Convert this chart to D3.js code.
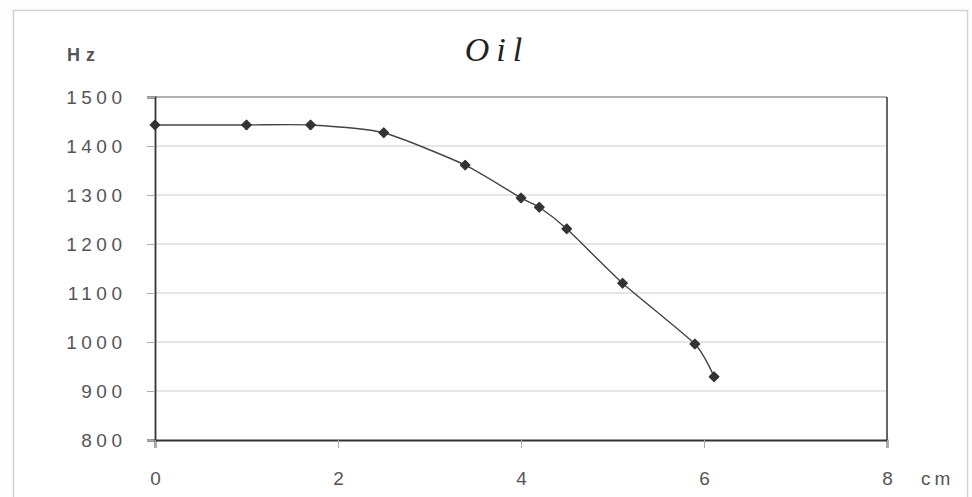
<!DOCTYPE html>
<html><head><meta charset="utf-8">
<script src="https://cdn.jsdelivr.net/npm/d3@7"></script>
<style>
html,body{margin:0;padding:0;background:#fff;}
svg text{font-family:"Liberation Sans",Arial,sans-serif;}
</style></head>
<body>
<svg id="c" width="972" height="497"></svg>
<script>
const title = "Oil";
const yUnit = "Hz";
const xUnit = "cm";
const distance = [0, 1.0, 1.7, 2.5, 3.39, 4.0, 4.2, 4.5, 5.11, 5.9, 6.11];
const frequency = [1443, 1443, 1443, 1427, 1361, 1294, 1275, 1231, 1120, 996, 929];
const xTicks = [0, 2, 4, 6, 8];
const yTicks = [800, 900, 1000, 1100, 1200, 1300, 1400, 1500];

const svg = d3.select("#c");
const m = {left:155, right:887, top:97, bottom:440};
const x = d3.scaleLinear().domain([0,8]).range([m.left, m.right]);
const y = d3.scaleLinear().domain([800,1500]).range([m.bottom, m.top]);

svg.append("rect").attr("x",0).attr("y",0).attr("width",972).attr("height",497).attr("fill","#fdfdfe");
// outer frame
svg.append("rect").attr("x",13.5).attr("y",10.5).attr("width",954).attr("height",500)
  .attr("fill","#ffffff").attr("stroke","#d2d2d2").attr("stroke-width",1.5);

// gridlines
svg.append("g").selectAll("line").data(yTicks.slice(1,-1)).join("line")
  .attr("x1",m.left).attr("x2",m.right)
  .attr("y1",d=>y(d)).attr("y2",d=>y(d))
  .attr("stroke","#cdcdcd").attr("stroke-width",1.2);

// plot frame top & right
svg.append("line").attr("x1",m.left).attr("x2",m.right).attr("y1",m.top).attr("y2",m.top)
  .attr("stroke","#999").attr("stroke-width",1.5);
svg.append("line").attr("x1",m.right).attr("x2",m.right).attr("y1",m.top).attr("y2",m.bottom)
  .attr("stroke","#555").attr("stroke-width",1.8);

// axes
const yAxis = d3.axisLeft(y).tickValues(yTicks).tickSize(8).tickPadding(25).tickFormat(d3.format("d"));
const gy = svg.append("g").attr("transform",`translate(${m.left},0)`).call(yAxis);
gy.select(".domain").attr("stroke","#333").attr("stroke-width",1.8);
gy.selectAll(".tick line").attr("stroke","#aaa");
gy.selectAll(".tick text").attr("fill","#555").attr("font-size",19).attr("letter-spacing","4.5px")
  .attr("dx","4.5").attr("dy","0.36em");

const xAxis = d3.axisBottom(x).tickValues(xTicks).tickSize(8).tickPadding(24).tickFormat(d3.format("d"));
const gx = svg.append("g").attr("transform",`translate(0,${m.bottom})`).call(xAxis);
gx.select(".domain").attr("stroke","#333").attr("stroke-width",1.8);
gx.selectAll(".tick line").attr("stroke","#aaa");
gx.selectAll(".tick text").attr("fill","#555").attr("font-size",19);

// line
const pts = distance.map((d,i)=>[d, frequency[i]]);
const line = d3.line().x(d=>x(d[0])).y(d=>y(d[1])).curve(d3.curveCardinal.tension(0.4));
svg.append("path").datum(pts).attr("d",line).attr("fill","none")
  .attr("stroke","#444").attr("stroke-width",1.4);

// markers (diamond = rotated square)
svg.append("g").selectAll("path").data(pts).join("path")
  .attr("d", d3.symbol(d3.symbolSquare, 46))
  .attr("transform", d=>`translate(${x(d[0])},${y(d[1])}) rotate(45)`)
  .attr("fill","#333").attr("stroke","#333").attr("stroke-width",1.2).attr("stroke-linejoin","round");

// labels
svg.append("text").attr("x",497).attr("y",61).attr("text-anchor","middle")
  .style("font-family","'Liberation Serif','Times New Roman',serif").attr("font-style","italic")
  .attr("font-size",34).attr("letter-spacing","7px").attr("fill","#222").text(title);
svg.append("text").attr("x",67).attr("y",61).attr("font-size",18).attr("font-weight","bold")
  .attr("letter-spacing","6px").attr("fill","#555").text(yUnit);
svg.append("text").attr("x",921).attr("y",485).attr("font-size",19)
  .attr("letter-spacing","4px").attr("fill","#555").text(xUnit);
</script>
</body></html>
